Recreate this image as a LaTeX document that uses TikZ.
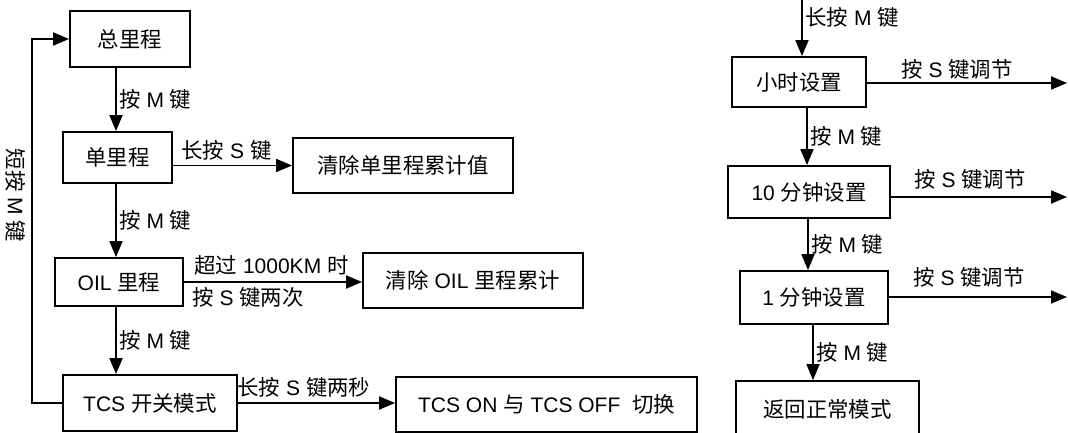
\documentclass[tikz,border=0pt]{standalone}
\usepackage{fontspec}
\setmainfont{Liberation Sans}
\newfontfamily\cjk[Scale=1.02]{Noto Sans CJK SC}
\newcommand{\zh}[1]{{\cjk #1}}
\usetikzlibrary{arrows.meta}

\tikzset{
  box/.style={draw, line width=1.8pt, inner sep=0pt},
  flow/.style={-{Triangle[length=16pt,width=13pt]}, line width=1.8pt},
  lbl/.style={inner sep=2.5pt},
}

\begin{document}
\begin{tikzpicture}[x=1pt, y=-1pt, font=\fontsize{21}{25}\selectfont]
\useasboundingbox (0,0) rectangle (1068,433);
\clip (0,0) rectangle (1068,433);

\node[box, minimum width=120, minimum height=56] (zlc) at (130,39) {\zh{总里程}};
\node[box, minimum width=109, minimum height=51] (dlc) at (117.5,157.5) {\zh{单里程}};
\node[box, minimum width=220, minimum height=55] (qdl) at (403,165.5) {\zh{清除单里程累计值}};
\node[box, minimum width=128, minimum height=48] (oil) at (119,282) {OIL \zh{里程}};
\node[box, minimum width=220, minimum height=55] (qoil) at (473,280.5) {\zh{清除} OIL \zh{里程累计}};
\node[box, minimum width=174, minimum height=56] (tcs) at (150,403) {TCS \zh{开关模式}};
\node[box, minimum width=301, minimum height=55] (tcsq) at (546.5,404.5) {TCS ON \zh{与} TCS OFF \ \zh{切换}};

\node[box, minimum width=134, minimum height=50] (xs) at (799,82) {\zh{小时设置}};
\node[box, minimum width=162, minimum height=52] (m10) at (809,192) {10 \zh{分钟设置}};
\node[box, minimum width=148, minimum height=53] (m1) at (814,297.5) {1 \zh{分钟设置}};
\node[box, minimum width=183, minimum height=56] (fh) at (827.5,409) {\zh{返回正常模式}};

\coordinate (cl) at (116,0);
\draw[flow] (zlc.south -| cl) -- node[lbl, right] (a1) {\zh{按} M \zh{键}} (dlc.north -| cl);
\draw[flow] (dlc.south -| cl) -- node[lbl, right] (a2) {\zh{按} M \zh{键}} (oil.north -| cl);
\draw[flow] (oil.south -| cl) -- node[lbl, right] (a3) {\zh{按} M \zh{键}} (tcs.north -| cl);

\draw[flow] (dlc.east |- qdl.west) -- node[lbl, above, pos=0.45, inner sep=4.5pt] (b1) {\zh{长按} S \zh{键}} (qdl.west);
\draw[flow] (oil.east) -- node[above right, pos=0.02, inner sep=6pt] (b2) {\zh{超过} 1000KM \zh{时}}
  node[below right, pos=0.02, inner sep=4pt] (b3) {\zh{按} S \zh{键两次}} (oil.east -| qoil.west);
\draw[flow] (tcs.east) -- node[above, pos=0.42, inner sep=5pt] (b4) {\zh{长按} S \zh{键两秒}} (tcs.east -| tcsq.west);

\coordinate (fb) at (32,0);
\draw[flow] (tcs.west) -- (tcs.west -| fb)
  -- node[pos=0.57, rotate=-90, anchor=north, inner sep=5pt] (c1) {\zh{短按} M \zh{键}} (zlc.west -| fb)
  -- (zlc.west);

\coordinate (tin) at (802,-5);
\coordinate (cr2) at (807,0);
\coordinate (cr3) at (808,0);
\coordinate (cr4) at (813,0);
\draw[flow] (tin) -- node[lbl, right, pos=0.37] (d1) {\zh{长按} M \zh{键}} (tin |- xs.north);
\draw[flow] (xs.south -| cr2) -- node[lbl, right] (d2) {\zh{按} M \zh{键}} (m10.north -| cr2);
\draw[flow] (m10.south -| cr3) -- node[lbl, right] (d3) {\zh{按} M \zh{键}} (m1.north -| cr3);
\draw[flow] (m1.south -| cr4) -- node[lbl, right] (d4) {\zh{按} M \zh{键}} (fh.north -| cr4);

\coordinate (r1) at (1067,83);
\coordinate (r2) at (1067,197);
\coordinate (r3) at (1067,297);
\draw[flow] (xs.east |- r1) -- node[lbl, above, pos=0.45] (e1) {\zh{按} S \zh{键调节}} (r1);
\draw[flow] (m10.east |- r2) -- node[above, pos=0.45, inner sep=7pt] (e2) {\zh{按} S \zh{键调节}} (r2);
\draw[flow] (m1.east |- r3) -- node[above, pos=0.45, inner sep=9pt] (e3) {\zh{按} S \zh{键调节}} (r3);

\end{tikzpicture}
\end{document}
